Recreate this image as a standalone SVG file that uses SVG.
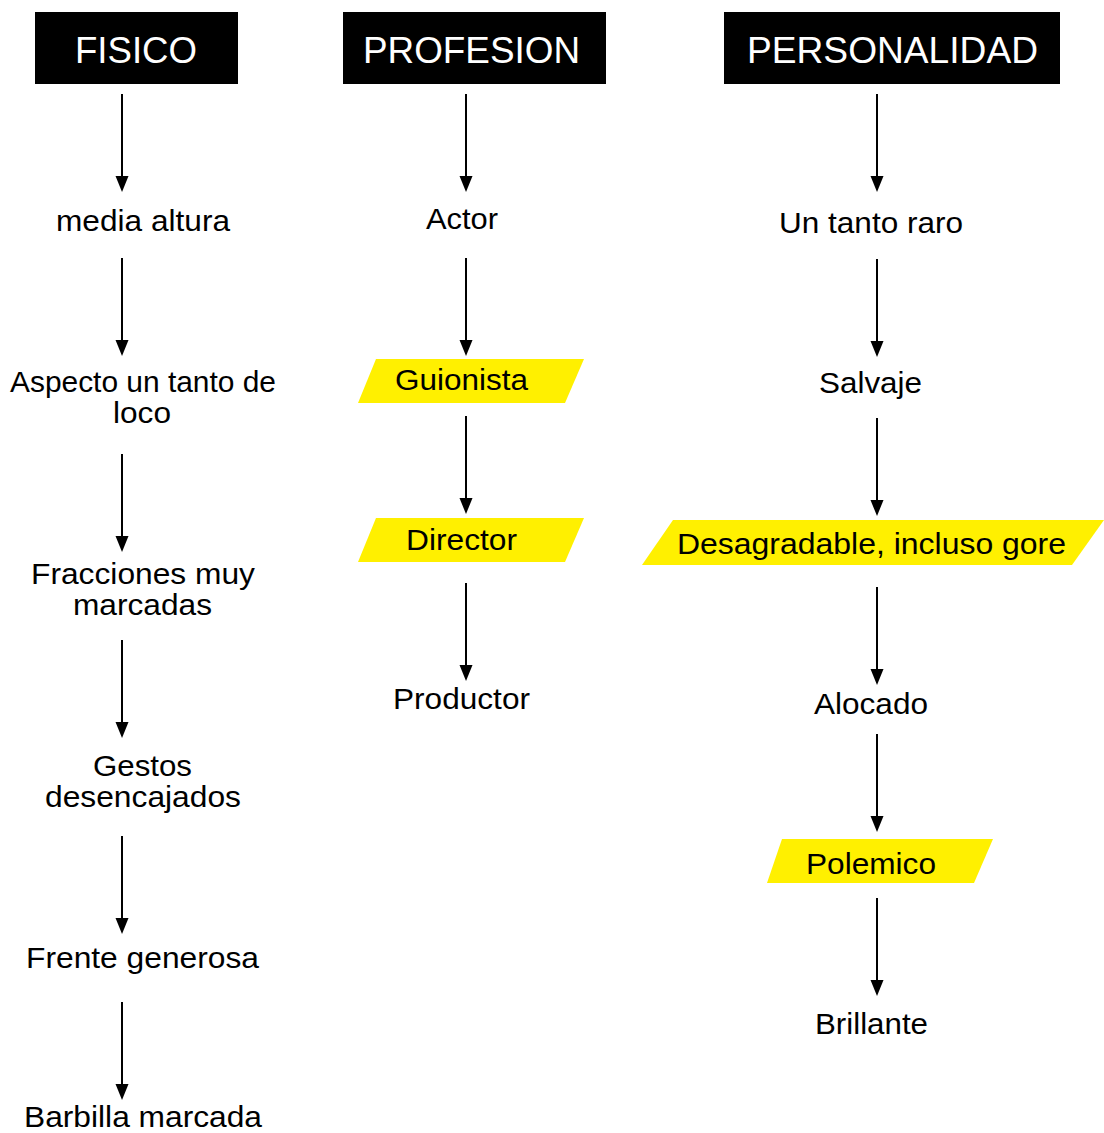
<svg xmlns="http://www.w3.org/2000/svg" width="1104" height="1133" viewBox="0 0 1104 1133">
<defs>
<marker id="ah" markerUnits="userSpaceOnUse" markerWidth="16" markerHeight="14" refX="4" refY="6.5" orient="auto">
<path d="M0,0 L16,6.5 L0,13 z" fill="#000"/>
</marker>
<style>
.hdr{fill:#000}
.ht{font-family:"Liberation Sans",Arial,sans-serif;font-size:36px;fill:#fff;text-anchor:middle}
.t{font-family:"Liberation Sans",Arial,sans-serif;font-size:30px;fill:#000;text-anchor:middle}
.hl{fill:#FFF000}
.c line{stroke:#000;stroke-width:2;marker-end:url(#ah)}
</style>
</defs>
<rect width="1104" height="1133" fill="#fff"/>
<g id="h-fisico"><rect class="hdr" x="35" y="12" width="203" height="72"/><text class="ht" x="136" y="63" textLength="122" lengthAdjust="spacingAndGlyphs">FISICO</text></g>
<g id="h-profesion"><rect class="hdr" x="343" y="12" width="263" height="72"/><text class="ht" x="471.5" y="63" textLength="217" lengthAdjust="spacingAndGlyphs">PROFESION</text></g>
<g id="h-personalidad"><rect class="hdr" x="724" y="12" width="336" height="72"/><text class="ht" x="892.5" y="63" textLength="291" lengthAdjust="spacingAndGlyphs">PERSONALIDAD</text></g>

<g id="n-media"><text class="t" x="143" y="231" textLength="174" lengthAdjust="spacingAndGlyphs">media altura</text></g>
<g id="n-aspecto"><text class="t" x="143" y="392" textLength="266" lengthAdjust="spacingAndGlyphs">Aspecto un tanto de</text><text class="t" x="142" y="423" textLength="58" lengthAdjust="spacingAndGlyphs">loco</text></g>
<g id="n-fracciones"><text class="t" x="143" y="584" textLength="224" lengthAdjust="spacingAndGlyphs">Fracciones muy</text><text class="t" x="142.5" y="615" textLength="139" lengthAdjust="spacingAndGlyphs">marcadas</text></g>
<g id="n-gestos"><text class="t" x="142.5" y="776" textLength="99" lengthAdjust="spacingAndGlyphs">Gestos</text><text class="t" x="143" y="807" textLength="196" lengthAdjust="spacingAndGlyphs">desencajados</text></g>
<g id="n-frente"><text class="t" x="142.5" y="968" textLength="233" lengthAdjust="spacingAndGlyphs">Frente generosa</text></g>
<g id="n-barbilla"><text class="t" x="143" y="1127" textLength="238" lengthAdjust="spacingAndGlyphs">Barbilla marcada</text></g>

<g id="n-actor"><text class="t" x="462" y="229" textLength="72" lengthAdjust="spacingAndGlyphs">Actor</text></g>
<g id="n-guionista"><polygon class="hl" points="376,359 584,359 565,403 358,403"/><text class="t" x="461.5" y="390" textLength="133" lengthAdjust="spacingAndGlyphs">Guionista</text></g>
<g id="n-director"><polygon class="hl" points="376,518 584,518 565,562 358,562"/><text class="t" x="461.5" y="550" textLength="111" lengthAdjust="spacingAndGlyphs">Director</text></g>
<g id="n-productor"><text class="t" x="461.5" y="709" textLength="137" lengthAdjust="spacingAndGlyphs">Productor</text></g>

<g id="n-raro"><text class="t" x="871" y="233" textLength="184" lengthAdjust="spacingAndGlyphs">Un tanto raro</text></g>
<g id="n-salvaje"><text class="t" x="870.5" y="393" textLength="103" lengthAdjust="spacingAndGlyphs">Salvaje</text></g>
<g id="n-desagradable"><polygon class="hl" points="673,520 1104,520 1072,565 642,565"/><text class="t" x="871.5" y="554" textLength="389" lengthAdjust="spacingAndGlyphs">Desagradable, incluso gore</text></g>
<g id="n-alocado"><text class="t" x="871" y="714" textLength="114" lengthAdjust="spacingAndGlyphs">Alocado</text></g>
<g id="n-polemico"><polygon class="hl" points="782,839 993,839 974,883 767,883"/><text class="t" x="871" y="874" textLength="130" lengthAdjust="spacingAndGlyphs">Polemico</text></g>
<g id="n-brillante"><text class="t" x="871.5" y="1034" textLength="113" lengthAdjust="spacingAndGlyphs">Brillante</text></g>

<g id="connectors" class="c">
<line x1="122" y1="94" x2="122" y2="180"/>
<line x1="122" y1="258" x2="122" y2="344"/>
<line x1="122" y1="454" x2="122" y2="540"/>
<line x1="122" y1="640" x2="122" y2="726"/>
<line x1="122" y1="836" x2="122" y2="922"/>
<line x1="122" y1="1002" x2="122" y2="1088"/>
<line x1="466" y1="94" x2="466" y2="180"/>
<line x1="466" y1="258" x2="466" y2="344"/>
<line x1="466" y1="416" x2="466" y2="502"/>
<line x1="466" y1="583" x2="466" y2="669"/>
<line x1="877" y1="94" x2="877" y2="180"/>
<line x1="877" y1="259" x2="877" y2="345"/>
<line x1="877" y1="418" x2="877" y2="504"/>
<line x1="877" y1="587" x2="877" y2="673"/>
<line x1="877" y1="734" x2="877" y2="820"/>
<line x1="877" y1="898" x2="877" y2="984"/>
</g>
</svg>
